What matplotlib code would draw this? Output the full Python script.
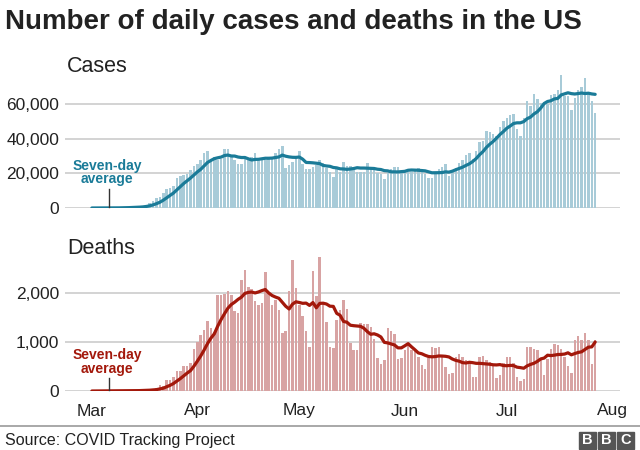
import matplotlib.pyplot as plt
import matplotlib.dates as mdates
from matplotlib.patches import Rectangle
import pandas as pd

# daily values, 1 Mar to 27 Jul 2020
dates = pd.date_range("2020-03-01", "2020-07-27", freq="D")

cases = [
    10, 15, 25, 30, 60, 80, 110, 120, 190, 260, 370, 460, 650, 700, 800,
    1200, 2000, 3000, 4200, 5600, 6500, 8900, 10800, 11800, 12700,
    17100, 18500, 19000, 19700, 22000, 24000, 25200, 27700, 32000, 33100,
    28000, 29300, 27400, 28000, 34000, 34000, 29300, 27700, 25400, 25400,
    28100, 28700, 29300, 31600, 28100, 27400, 27700, 28100, 29300, 31600,
    34000, 35500, 22900, 24900, 26500, 29000, 33000, 25200, 22400, 22400,
    23900, 24900, 27400, 25800, 22900, 21000, 17700, 22400, 21000, 26800,
    24300, 24300, 22900, 21000, 21000, 21000, 26200, 23900, 23500, 20000,
    19700, 16600, 20000, 22400, 23500, 23500, 21000, 21000, 21000, 21000,
    22000, 22900, 22400, 19700, 17100, 17100, 21000, 22400, 23500, 25200,
    18500, 21000, 22900, 26000, 27700, 30600, 31600, 28100, 32600, 38300,
    38700, 44500, 43700, 42800, 41600, 47000, 50300, 52000, 53500, 54000,
    45500, 41600, 52000, 62000, 58600, 66000, 63000, 60500, 60000, 60000,
    65000, 66000, 68000, 77000, 64700, 64500, 56600, 63400, 68000, 70000,
    75000, 66000, 61500, 55000,
]

deaths = [
    0, 1, 2, 2, 3, 3, 4, 3, 5, 5,
    7, 8, 10, 12, 10, 20, 25, 30, 45, 55,
    120, 110, 225, 230, 290, 400, 400, 510, 510, 580,
    860, 1010, 1150, 1250, 1440, 1290, 1200, 1960, 1960, 1990,
    2040, 1970, 1630, 1600, 2280, 2490, 2140, 2090, 1840, 1770,
    1800, 2430, 2000, 1770, 1870, 1660, 1190, 1240, 2040, 2690,
    2110, 1770, 1540, 1220, 910, 2450, 1940, 2740, 1800, 1420,
    910, 880, 1450, 1660, 1860, 1690, 990, 840, 840, 1400,
    1380, 1380, 1310, 1060, 670, 550, 630, 1300, 1230, 1160,
    650, 670, 840, 945, 840, 810, 705, 535, 445, 670,
    900, 875, 900, 690, 500, 350, 375, 705, 760, 690,
    640, 600, 295, 280, 705, 720, 640, 600, 520, 275,
    330, 570, 690, 690, 570, 295, 210, 240, 910, 900,
    855, 840, 650, 330, 650, 855, 965, 945, 855, 700,
    510, 360, 1040, 1120, 1040, 1180, 1040, 550, 1055,
]

months = pd.date_range("2020-03-01", "2020-08-01", freq="MS")
month_labels = ["Mar", "Apr", "May", "Jun", "Jul", "Aug"]
case_ticks = [0, 20000, 40000, 60000]
death_ticks = [0, 1000, 2000]

plt.rcParams['font.family'] = ['Liberation Sans', 'DejaVu Sans']

W, H = 640, 450
fig = plt.figure(figsize=(6.4, 4.5), dpi=100)


def box(left, top, right, bottom):
    # pixel box -> figure fraction
    return [left / W, 1 - bottom / H, (right - left) / W, (bottom - top) / H]


def fy(y):
    # pixel row from top -> figure fraction
    return 1 - y / H


d0 = mdates.date2num(dates[0])
xlim = (d0 - 7.9, d0 + 155.3)

# data, ticks, ylim, axes box, bar colour, line colour, name, name row, label row, pointer rows
panels = [
    (cases, case_ticks, (0, 80000), box(65, 69.3, 620, 208), '#a8cbd8', '#1a7b98',
     "Cases", 66, 166, (189, 207)),
    (deaths, death_ticks, (0, 2800), box(65, 254.4, 620, 391), '#d8a3a3', '#a3180b',
     "Deaths", 248, 355, (378, 390)),
]

for vals, ticks, ylim, rect, bar_c, line_c, name, name_y, lab_y, ptr in panels:
    ax = fig.add_axes(rect)
    s = pd.Series(vals, index=dates)
    avg = s.rolling(7, min_periods=1).mean()
    ax.bar(dates, vals, width=0.72, color=bar_c, zorder=2)
    ax.plot(dates, avg, color=line_c, lw=2.3, zorder=3, solid_capstyle='round')
    ax.set_xlim(xlim)
    ax.set_ylim(ylim)
    ax.set_yticks(ticks)
    ax.set_yticklabels([f"{t:,}" for t in ticks], fontsize=12.5, color='#222222')
    ax.yaxis.grid(True, color='#cccccc', lw=1.2, zorder=0)
    ax.tick_params(axis='y', length=0, pad=4)
    for sp in ax.spines.values():
        sp.set_visible(False)
    ax.set_xticks(months)
    if name == "Deaths":
        ax.set_xticklabels(month_labels, fontsize=12.5, color='#222222')
        ax.tick_params(axis='x', length=0, pad=9)
    else:
        ax.set_xticklabels([])
        ax.tick_params(axis='x', length=0)

    # "Seven-day average" label with pointer
    fig.text(107 / W, fy(lab_y), "Seven-day", color=line_c, fontsize=10,
             fontweight='bold', ha='center', va='center')
    fig.text(107 / W, fy(lab_y + 13.5), "average", color=line_c, fontsize=10,
             fontweight='bold', ha='center', va='center')
    fig.add_artist(plt.Line2D([109 / W, 109 / W], [fy(ptr[0]), fy(ptr[1])],
                              color='#333333', lw=1))
    fig.text(67 / W, fy(name_y), name, fontsize=15.5, color='#222222',
             ha='left', va='center')

fig.text(5 / W, fy(22), "Number of daily cases and deaths in the US", fontsize=20,
         fontweight='bold', color='#222222', ha='left', va='center')

fig.add_artist(plt.Line2D([0, 1], [fy(426), fy(426)], color='#999999', lw=1.2))
fig.text(5 / W, fy(440), "Source: COVID Tracking Project", fontsize=11.5,
         color='#222222', ha='left', va='center')

for i, letter in enumerate("BBC"):
    x0 = 579 + i * 19
    fig.add_artist(Rectangle((x0 / W, fy(449)), 17 / W, 17 / H, color='#555555',
                             transform=fig.transFigure))
    fig.text((x0 + 8.5) / W, fy(440.5), letter, color='white', fontsize=10.5,
             fontweight='bold', ha='center', va='center')

fig.savefig("out.png", dpi=100)
